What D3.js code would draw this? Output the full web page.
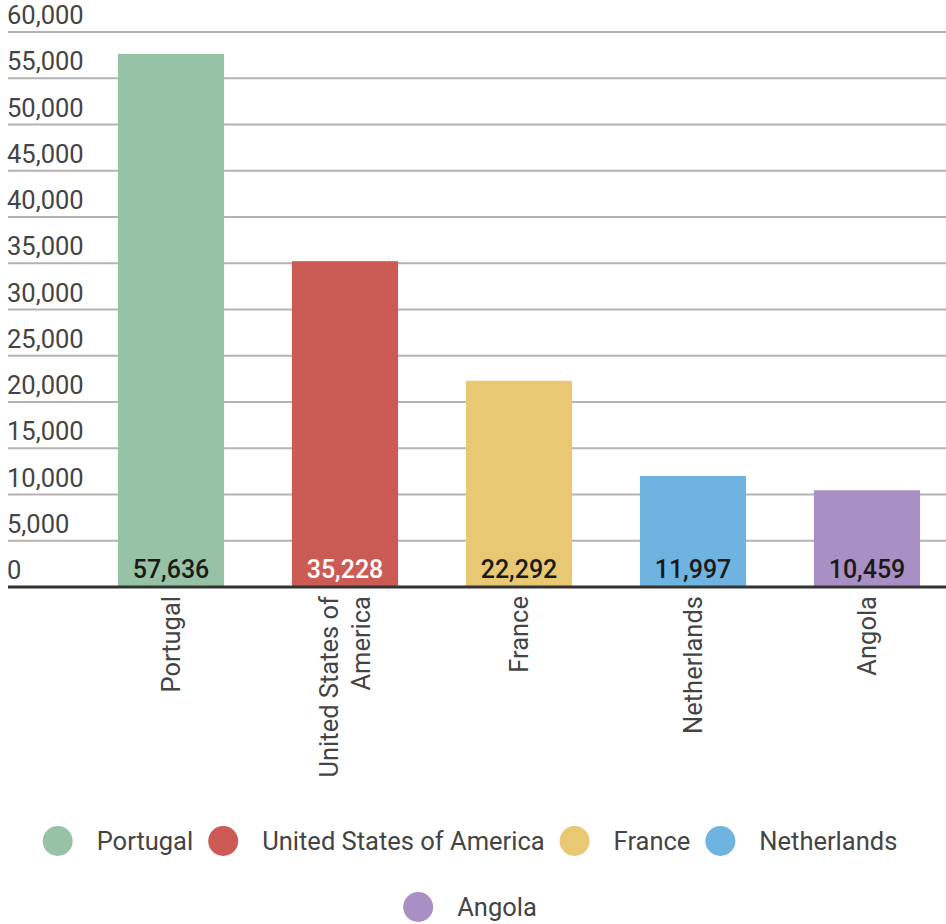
<!DOCTYPE html>
<html>
<head>
<meta charset="utf-8">
<script src="https://cdn.jsdelivr.net/npm/d3@7"></script>
<style>
  html, body { margin: 0; padding: 0; background: #fff; }
  svg { display: block; font-family: Roboto, "Noto Sans", sans-serif; }
</style>
</head>
<body>
<svg id="chart" width="946" height="924"></svg>
<script>
// Country totals
const countries = ["Portugal", "United States of America", "France", "Netherlands", "Angola"];
const values = [57636, 35228, 22292, 11997, 10459];
const colors = ["#97c2a6", "#cd5b55", "#e8c873", "#6fb3e0", "#a890c4"];
const valueLabelColors = ["#1a1a1a", "#ffffff", "#1a1a1a", "#1a1a1a", "#1a1a1a"];
const yTicks = [0, 5000, 10000, 15000, 20000, 25000, 30000, 35000, 40000, 45000, 50000, 55000, 60000];

const svg = d3.select("#chart");
const W = 946;

const y = d3.scaleLinear().domain([0, 60000]).range([587, 32]);
const x = d3.scaleBand().domain(countries).range([84, 954]).paddingInner(0.39).paddingOuter(0.195);
const fmt = d3.format(",");

// gridlines with labels sitting above each line
const grid = svg.append("g");
grid.selectAll("line").data(yTicks.filter(t => t > 0)).join("line")
  .attr("x1", 8).attr("x2", W)
  .attr("y1", d => y(d)).attr("y2", d => y(d))
  .attr("stroke", "#b3b3b3").attr("stroke-width", 2);
grid.selectAll("text").data(yTicks).join("text")
  .attr("x", 7).attr("y", d => y(d) - 8)
  .attr("font-size", 25.5).attr("fill", "#444")
  .text(d => fmt(d));

// bars
svg.append("g").selectAll("rect").data(countries).join("rect")
  .attr("x", d => x(d)).attr("width", x.bandwidth())
  .attr("y", (d, i) => y(values[i]))
  .attr("height", (d, i) => y(0) - y(values[i]))
  .attr("fill", (d, i) => colors[i]);

// value labels at the foot of each bar
svg.append("g").selectAll("text").data(countries).join("text")
  .attr("x", d => x(d) + x.bandwidth() / 2).attr("y", y(0) - 9)
  .attr("text-anchor", "middle").attr("font-size", 25).attr("font-weight", 500)
  .attr("fill", (d, i) => valueLabelColors[i])
  .text((d, i) => fmt(values[i]));

// baseline
svg.append("line").attr("x1", 8).attr("x2", W)
  .attr("y1", y(0)).attr("y2", y(0))
  .attr("stroke", "#333").attr("stroke-width", 3);

// rotated category labels, wrapped for long names
const catLines = { "United States of America": ["United States of", "America"] };
const cat = svg.append("g").selectAll("g").data(countries).join("g")
  .attr("transform", d => `translate(${x(d) + x.bandwidth() / 2},596) rotate(-90)`);
cat.each(function (d) {
  const lines = catLines[d] || [d];
  const lh = 32;
  const g = d3.select(this);
  lines.forEach((ln, k) => {
    g.append("text")
      .attr("x", 0)
      .attr("y", (k - (lines.length - 1) / 2) * lh)
      .attr("dy", "0.35em")
      .attr("text-anchor", "end")
      .attr("font-size", 25.5).attr("fill", "#444")
      .text(ln);
  });
});

// legend, wrapped into centered rows
const legend = svg.append("g");
const items = countries.map((c, i) => {
  const g = legend.append("g");
  g.append("circle").attr("cx", 15).attr("cy", 0).attr("r", 15).attr("fill", colors[i]);
  const t = g.append("text").attr("x", 54).attr("dy", "0.35em")
    .attr("font-size", 25.5).attr("fill", "#444").text(c);
  return { g, w: 54 + t.node().getComputedTextLength() };
});
const gap = 15, maxW = 900, rowY = [841, 907];
const rows = [[]];
let cur = 0;
items.forEach(it => {
  const add = (rows[rows.length - 1].length ? gap : 0) + it.w;
  if (cur + add > maxW && rows[rows.length - 1].length) { rows.push([it]); cur = it.w; }
  else { rows[rows.length - 1].push(it); cur += add; }
});
rows.forEach((row, r) => {
  const total = d3.sum(row, d => d.w) + gap * (row.length - 1);
  let xx = 470 - total / 2;
  row.forEach(it => {
    it.g.attr("transform", `translate(${xx},${rowY[r]})`);
    xx += it.w + gap;
  });
});
</script>
</body>
</html>
